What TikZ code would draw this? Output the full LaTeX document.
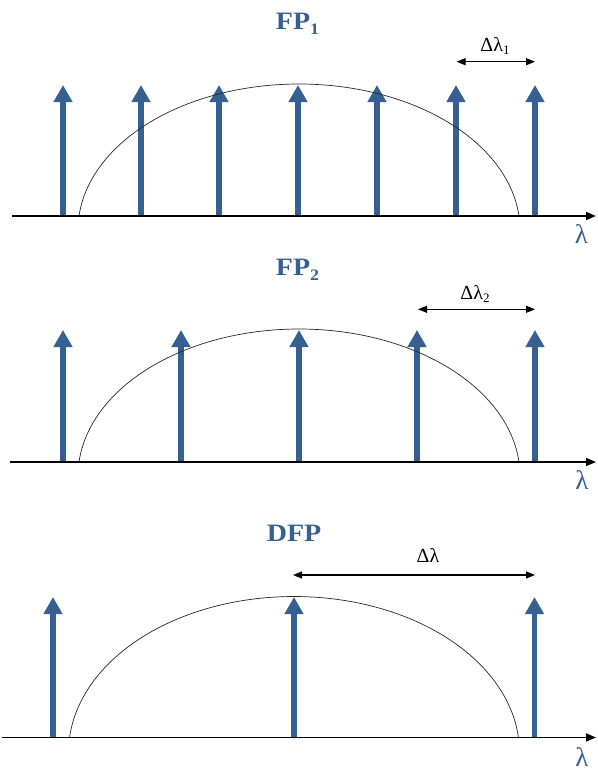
\documentclass[tikz,border=0pt]{standalone}
\usepackage{fontspec}
\setmainfont{Liberation Serif}
\usetikzlibrary{arrows.meta}
\definecolor{fpblue}{RGB}{54,96,146}
\tikzset{
  spike/.style={draw=fpblue, line width=5.5pt, -{Triangle[width=18pt,length=17pt]}},
  axisline/.style={draw=black, line width=1.6pt, -{Triangle[width=8pt,length=10pt]}},
  envelope/.style={draw=black!85, line width=0.7pt},
  spacing/.style={draw=black, line width=1.1pt, {Triangle[width=7pt,length=9pt]}-{Triangle[width=7pt,length=9pt]}},
  title/.style={text=fpblue, font=\fontsize{25}{25}\selectfont\bfseries, inner sep=0pt, anchor=base},
  dlabel/.style={text=black, font=\fontsize{20}{20}\selectfont, inner sep=0pt, anchor=base},
  lamlabel/.style={text=fpblue, font=\fontsize{27}{27}\selectfont, inner sep=0pt}
}
\newcommand{\subsc}[1]{\raisebox{-5pt}{\fontsize{16}{16}\selectfont #1}}
\newcommand{\dsub}[1]{\raisebox{-3pt}{\fontsize{13}{13}\selectfont #1}}
\begin{document}
\begin{tikzpicture}[x=1pt,y=-1pt]
\useasboundingbox (0,0) rectangle (597,771);

% ---------- Panel 1 ----------
\node[title] (t1) at (297.5,29.3) {\scalebox{1.12}[1]{FP\subsc{1}}};
\foreach \x [count=\i] in {63,141,219,298,377,456,535} {
  \coordinate (p1b\i) at (\x,216);
  \coordinate (p1t\i) at (\x,85);
  \draw[spike] (p1b\i) -- (p1t\i);
}
\draw[envelope] plot[domain=5.5:174.5, samples=120, smooth] ({299+221*cos(\x)}, {230-146*sin(\x)});
\coordinate (ax1s) at (12,216);
\coordinate (ax1e) at (596,216);
\draw[axisline] (ax1s) -- (ax1e);
\node[lamlabel] (l1) at (581.5,234) {λ};
\coordinate (d1a) at (456.5,61.7);
\coordinate (d1b) at (535,61.7);
\draw[spacing] (d1a) -- (d1b);
\node[dlabel] (dl1) at (495,51) {Δλ\dsub{1}};

% ---------- Panel 2 ----------
\node[title] (t2) at (297.5,275.5) {\scalebox{1.12}[1]{FP\subsc{2}}};
\foreach \x [count=\i] in {63,181,299,417,535} {
  \coordinate (p2b\i) at (\x,462);
  \coordinate (p2t\i) at (\x,330);
  \draw[spike] (p2b\i) -- (p2t\i);
}
\draw[envelope] plot[domain=5.5:174.5, samples=120, smooth] ({299+221*cos(\x)}, {476-147*sin(\x)});
\coordinate (ax2s) at (10,462);
\coordinate (ax2e) at (596,462);
\draw[axisline] (ax2s) -- (ax2e);
\node[lamlabel] (l2) at (582,480) {λ};
\coordinate (d2a) at (418,309.3);
\coordinate (d2b) at (535,309.3);
\draw[spacing] (d2a) -- (d2b);
\node[dlabel] (dl2) at (475,299) {Δλ\dsub{2}};

% ---------- Panel 3 ----------
\node[title] (t3) at (294,541.7) {\scalebox{1.12}[1]{DFP}};
\foreach \x [count=\i] in {53,294,534.5} {
  \coordinate (p3b\i) at (\x,737.5);
  \coordinate (p3t\i) at (\x,597);
  \draw[spike] (p3b\i) -- (p3t\i);
}
\draw[envelope] plot[domain=5.5:174.5, samples=120, smooth] ({294+225.5*cos(\x)}, {752.5-156*sin(\x)});
\coordinate (ax3s) at (2,737.5);
\coordinate (ax3e) at (596,737.5);
\draw[axisline] (ax3s) -- (ax3e);
\node[lamlabel] (l3) at (582,757) {λ};
\coordinate (d3a) at (293,575);
\coordinate (d3b) at (535,575);
\draw[spacing] (d3a) -- (d3b);
\node[dlabel] (dl3) at (428,562) {Δλ};
\end{tikzpicture}
\end{document}
